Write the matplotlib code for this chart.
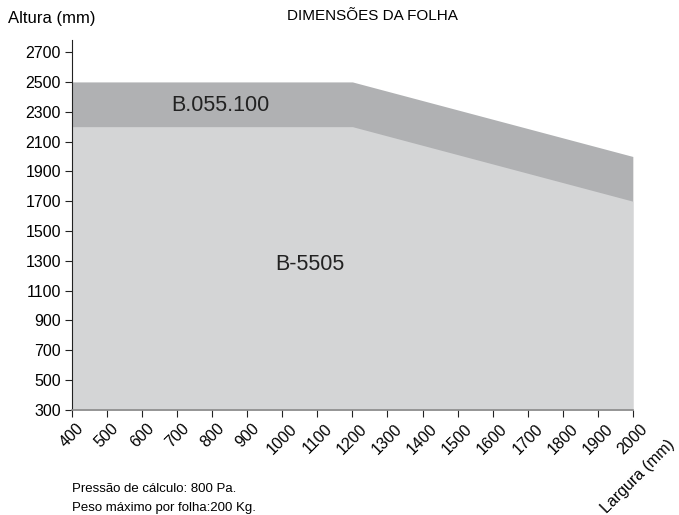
import matplotlib.pyplot as plt
import matplotlib as mpl

mpl.rcParams.update({'font.family': ['Liberation Sans', 'DejaVu Sans'], 'font.size': 11.5})

DARK = '#b0b1b3'; LIGHT = '#d4d5d6'

# envelope points (largura mm, altura mm)
largura = [400, 1200, 2000]
altura_b055 = [2500, 2500, 2000]
altura_b5505 = [2200, 2200, 1700]
xticks = list(range(400, 2001, 100))
yticks = list(range(300, 2701, 200))

fig = plt.figure(figsize=(6.79, 5.15), dpi=100)
ax = fig.add_axes([0.106, 0.204, 0.826, 0.718])

ax.fill_between(largura, 300, altura_b055, color=DARK, lw=0)
ax.fill_between(largura, 300, altura_b5505, color=LIGHT, lw=0)

ax.text(822, 2340, 'B.055.100', fontsize=15.5, ha='center', va='center', color='#222222')
ax.text(1080, 1275, 'B-5505', fontsize=15.5, ha='center', va='center', color='#222222')

ax.set_xlim(400, 2000); ax.set_ylim(300, 2780)
ax.set_xticks(xticks)
ax.set_xticklabels([str(v) for v in xticks], rotation=45, ha='center', va='top')
ax.set_yticks(yticks)
ax.tick_params(direction='out', length=5, width=0.8, color='#222222', labelsize=11.5, pad=3)
for s in ['top', 'right']:
    ax.spines[s].set_visible(False)
ax.spines['left'].set_color('#222222')
ax.spines['bottom'].set_color('#8a8a8a'); ax.spines['bottom'].set_linewidth(1.2)

fig.text(0.548, 0.968, 'DIMENSÕES DA FOLHA', ha='center', va='center', fontsize=11)
fig.text(0.012, 0.965, 'Altura (mm)', ha='left', va='center', fontsize=12)
fig.text(0.94, 0.074, 'Largura (mm)', ha='center', va='center', fontsize=11.5, rotation=45)
fig.text(0.106, 0.050, 'Pressão de cálculo: 800 Pa.', ha='left', va='center', fontsize=9.5)
fig.text(0.106, 0.013, 'Peso máximo por folha:200 Kg.', ha='left', va='center', fontsize=9.5)

fig.savefig('out.png', dpi=100)
